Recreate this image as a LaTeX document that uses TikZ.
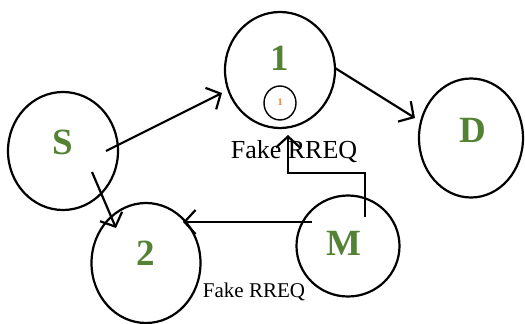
\documentclass[tikz,border=0pt]{standalone}
\usepackage{fontspec}
\setmainfont{Liberation Serif}
\usetikzlibrary{shapes.geometric,arrows.meta}
\definecolor{nodegreen}{RGB}{84,130,53}
\definecolor{tinyorange}{RGB}{237,125,49}
\tikzset{
  nodecirc/.style={draw=black, line width=2.2pt, ellipse, inner sep=0pt},
  biglabel/.style={text=nodegreen, font=\bfseries\fontsize{37}{37}\selectfont, inner sep=0pt},
  conn/.style={line width=2.2pt, -{Straight Barb[length=11pt,width=24pt,line width=2.2pt]}},
  msgtext/.style={inner sep=0pt, anchor=base}
}
\begin{document}
\begin{tikzpicture}[x=1pt,y=-1pt]
\path[use as bounding box] (0,0) rectangle (525,324);
% circles
\node[nodecirc, minimum width=110pt, minimum height=118pt] (cS) at (63,151) {};
\node[nodecirc, minimum width=110pt, minimum height=116pt] (c1) at (280,70) {};
\node[nodecirc, minimum width=104pt, minimum height=119pt] (cD) at (471,138) {};
\node[nodecirc, minimum width=109pt, minimum height=120pt] (c2) at (146,263) {};
\node[nodecirc, minimum width=103pt, minimum height=101pt] (cM) at (348,246) {};
\node[draw=black, line width=1.4pt, ellipse, minimum width=32pt, minimum height=34pt, inner sep=0pt] (csmall) at (280,103) {};
% labels
\node[biglabel] (lS) at (63,142) {S};
\node[biglabel] (l1) at (280,58) {1};
\node[biglabel] (lD) at (473,130) {D};
\node[biglabel] (l2) at (146,253) {2};
\node[biglabel] (lM) at (344,243) {M};
\node[text=tinyorange, font=\bfseries\fontsize{10}{10}\selectfont, inner sep=0pt] (lsmall) at (280,102) {1};
% message labels
\node[msgtext, font=\fontsize{26}{26}\selectfont] (f1) at (294,158) {Fake RREQ};
\node[msgtext, font=\fontsize{21}{21}\selectfont] (f2) at (254,297) {Fake RREQ};
% connector endpoints
\coordinate (aS1) at (106,151);
\coordinate (b1) at (222,93);
\coordinate (aS2) at (92,172);
\coordinate (b2) at (116,228);
\coordinate (a1D) at (335,68);
\coordinate (bD) at (415,118);
\coordinate (aM2) at (312,222);
\coordinate (bM2) at (183,222);
\coordinate (aM1) at (365,217);
\coordinate (k1) at (365,173);
\coordinate (k2) at (288,173);
\coordinate (bM1) at (288,135);
% connectors
\draw[conn] (aS1) -- (b1);
\draw[conn] (aS2) -- (b2);
\draw[conn] (a1D) -- (bD);
\draw[conn] (aM2) -- (bM2);
\draw[conn] (aM1) -- (k1) -- (k2) -- (bM1);
\end{tikzpicture}
\end{document}
